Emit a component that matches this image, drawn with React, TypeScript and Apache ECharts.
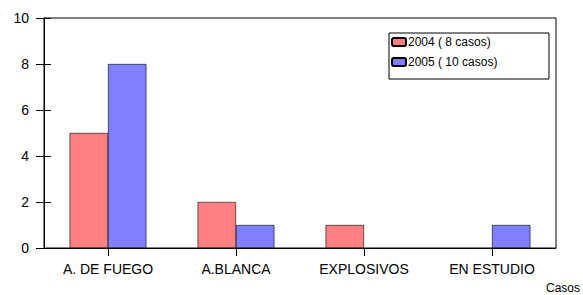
import React, { useEffect, useRef } from "react";
import * as echarts from "echarts";

const categories = ["A. DE FUEGO", "A.BLANCA", "EXPLOSIVOS", "EN ESTUDIO"];
const series2004 = [5, 2, 1, 0];
const series2005 = [8, 1, 0, 1];
const seriesNames = ["2004 ( 8 casos)", "2005 ( 10 casos)"];
const yTicks = { min: 0, max: 10, interval: 2 };
const axisName = "Casos";

const hideZero = (arr: number[]) => arr.map((v) => (v === 0 ? null : v));

export default function App() {
  const ref = useRef<HTMLDivElement>(null);
  useEffect(() => {
    if (!ref.current) return;
    const chart = echarts.init(ref.current, undefined, { renderer: "svg" });
    const font = "Arial, 'Liberation Sans', sans-serif";
    const gridBox = { left: 44, right: 27, top: 18, bottom: 47 };
    chart.setOption({
      animation: false,
      backgroundColor: "#fff",
      textStyle: { fontFamily: font },
      grid: [
        {
          ...gridBox,
          show: true,
          borderColor: "#000",
          borderWidth: 1,
          backgroundColor: "transparent",
        },
        { ...gridBox, show: false },
      ],
      legend: {
        orient: "vertical",
        left: 391,
        top: 36,
        itemWidth: 14,
        itemHeight: 8,
        itemGap: 8,
        padding: 0,
        textStyle: { fontSize: 12, color: "#000", fontFamily: font, padding: [0, 0, 0, -3] },
        data: seriesNames,
      },
      graphic: [
        {
          type: "rect",
          shape: { x: 389, y: 33, width: 160, height: 46 },
          style: { fill: "transparent", stroke: "#000", lineWidth: 1 },
          z: 100,
        },
        {
          type: "text",
          right: 3,
          top: 282,
          style: { text: axisName, fontSize: 12, fill: "#000", fontFamily: font },
        },
      ],
      xAxis: [
        {
          type: "category",
          gridIndex: 0,
          data: categories,
          axisLine: { show: true, lineStyle: { color: "#000", width: 1 } },
          axisTick: { show: true, length: 8, alignWithLabel: true, lineStyle: { color: "#000" } },
          axisLabel: { fontSize: 14, color: "#000", margin: 14, fontFamily: font },
          splitLine: { show: false },
        },
        {
          type: "category",
          gridIndex: 1,
          data: categories,
          axisLine: { show: false },
          axisTick: { show: false },
          axisLabel: { show: false },
          splitLine: { show: false },
        },
      ],
      yAxis: [
        {
          type: "value",
          gridIndex: 0,
          min: yTicks.min,
          max: yTicks.max,
          interval: yTicks.interval,
          axisLine: { show: true, lineStyle: { color: "#000", width: 1 } },
          axisTick: { show: true, inside: true, length: 7, lineStyle: { color: "#000", width: 1 } },
          axisLabel: { show: false },
          splitLine: { show: false },
        },
        {
          type: "value",
          gridIndex: 1,
          min: yTicks.min,
          max: yTicks.max,
          interval: yTicks.interval,
          axisLine: { show: true, lineStyle: { color: "#000", width: 1 } },
          axisTick: { show: true, length: 8, lineStyle: { color: "#000" } },
          axisLabel: { fontSize: 14, color: "#000", margin: 15, fontFamily: font },
          splitLine: { show: false },
        },
      ],
      series: [
        {
          name: seriesNames[0],
          type: "bar",
          data: hideZero(series2004),
          barGap: "0%",
          barCategoryGap: "40%",
          itemStyle: { color: "#FF8080", borderColor: "#000", borderWidth: 0.6 },
        },
        {
          name: seriesNames[1],
          type: "bar",
          data: hideZero(series2005),
          barGap: "0%",
          barCategoryGap: "40%",
          itemStyle: { color: "#8080FF", borderColor: "#000", borderWidth: 0.6 },
        },
        {
          type: "line",
          xAxisIndex: 1,
          yAxisIndex: 1,
          data: categories.map(() => null),
          silent: true,
          showSymbol: false,
        },
      ],
    });
    return () => chart.dispose();
  }, []);
  return <div ref={ref} style={{ width: 583, height: 295, position: "absolute", left: 0, top: 0 }} />;
}
